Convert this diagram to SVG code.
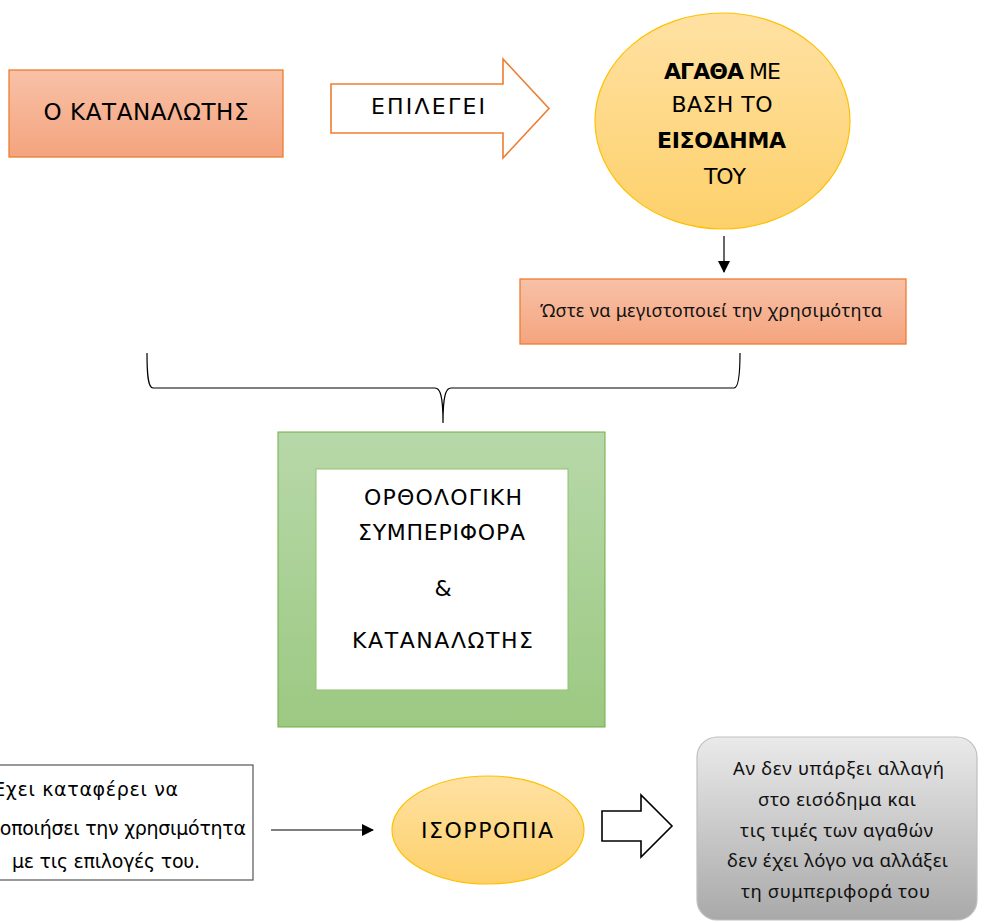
<svg xmlns="http://www.w3.org/2000/svg" width="986" height="923" viewBox="0 0 986 923">
<defs>
<linearGradient id="gOrange" x1="0" y1="0" x2="0" y2="1"><stop offset="0" stop-color="#F8C1A7"/><stop offset="1" stop-color="#F4A47E"/></linearGradient>
<linearGradient id="gYellow" x1="0" y1="0" x2="0" y2="1"><stop offset="0" stop-color="#FFE1A3"/><stop offset="1" stop-color="#FDD06A"/></linearGradient>
<linearGradient id="gGreen" x1="0" y1="0" x2="0" y2="1"><stop offset="0" stop-color="#B7D8A9"/><stop offset="1" stop-color="#9CC982"/></linearGradient>
<linearGradient id="gGray" x1="0" y1="0" x2="0" y2="1"><stop offset="0" stop-color="#EAEAEA"/><stop offset="1" stop-color="#A9A9A9"/></linearGradient>
<marker id="ah" markerUnits="userSpaceOnUse" markerWidth="12" markerHeight="12" viewBox="0 0 12 12" refX="11" refY="6" orient="auto"><path d="M0,0 L12,6 L0,12 z" fill="#000"/></marker>
<style>
.comic{font-family:"DejaVu Sans","Noto Sans",sans-serif;fill:#000}
.cal{font-family:"Noto Sans","Liberation Sans",sans-serif;fill:#111}
.c{text-anchor:middle}
</style>
</defs>
<rect width="986" height="923" fill="#fff"/>

<g id="consumer">
<rect x="9" y="70" width="274" height="87" fill="url(#gOrange)" stroke="#ED7D31" stroke-width="1.3"/>
<text class="comic c" x="146" y="120" font-size="23" textLength="205">Ο ΚΑΤΑΝΑΛΩΤΗΣ</text>
</g>

<g id="chooses">
<path d="M331,84 L503,84 L503,59 L549,108.5 L503,158 L503,133 L331,133 Z" fill="#fff" stroke="#ED7D31" stroke-width="1.6"/>
<text class="comic c" x="428" y="114" font-size="22" textLength="114">ΕΠΙΛΕΓΕΙ</text>
</g>

<g id="goods">
<ellipse cx="722.5" cy="121" rx="127.5" ry="108" fill="url(#gYellow)" stroke="#FFC000" stroke-width="1.2"/>
<text class="comic c" x="722.5" y="79" font-size="22" textLength="117"><tspan font-weight="bold">ΑΓΑΘΑ</tspan> ΜΕ</text>
<text class="comic c" x="722" y="112" font-size="22" textLength="101">ΒΑΣΗ ΤΟ</text>
<text class="comic c" x="721.5" y="148" font-size="22" font-weight="bold" textLength="129">ΕΙΣΟΔΗΜΑ</text>
<text class="comic c" x="725" y="184" font-size="22" textLength="42">ΤΟΥ</text>
</g>

<g id="maximize">
<rect x="520" y="279" width="386" height="65" fill="url(#gOrange)" stroke="#ED7D31" stroke-width="1.3"/>
<text class="cal c" x="711" y="317" font-size="18" textLength="342">Ώστε να μεγιστοποιεί την χρησιμότητα</text>
</g>

<g id="rational">
<rect x="278" y="432" width="327" height="295" fill="url(#gGreen)" stroke="#70AD47" stroke-width="1"/>
<rect x="316" y="469" width="252" height="221" fill="#fff" stroke="#8FC16E" stroke-width="1"/>
<text class="comic c" x="443" y="505" font-size="22" textLength="158">ΟΡΘΟΛΟΓΙΚΗ</text>
<text class="comic c" x="441.5" y="540" font-size="22" textLength="167">ΣΥΜΠΕΡΙΦΟΡΑ</text>
<text class="comic c" x="443" y="596" font-size="22">&amp;</text>
<text class="comic c" x="442.5" y="648" font-size="22" textLength="181">ΚΑΤΑΝΑΛΩΤΗΣ</text>
</g>

<g id="achieved">
<rect x="-40" y="765" width="293" height="115" fill="#fff" stroke="#555" stroke-width="1.2"/>
<text class="comic" x="-9" y="796" font-size="19" textLength="187">Έχει καταφέρει να</text>
<text class="comic" x="-62" y="835" font-size="19" textLength="308">μεγιστοποιήσει την χρησιμότητα</text>
<text class="comic" x="12" y="868" font-size="19" textLength="188">με τις επιλογές του.</text>
</g>

<g id="equilibrium">
<ellipse cx="488" cy="830" rx="96" ry="54" fill="url(#gYellow)" stroke="#FFC000" stroke-width="1.2"/>
<text class="comic c" x="487" y="838" font-size="22" textLength="132">ΙΣΟΡΡΟΠΙΑ</text>
</g>

<g id="hollowArrow">
<path d="M602,811 L641,811 L641,795 L672,826 L641,857 L641,841 L602,841 Z" fill="#fff" stroke="#000" stroke-width="1.6"/>
</g>

<g id="noChange">
<rect x="697" y="737" width="280" height="183" rx="20" ry="20" fill="url(#gGray)" stroke="#BFBFBF" stroke-width="1.2"/>
<text class="cal c" x="838.5" y="775" font-size="18.5" textLength="211">Αν δεν υπάρξει αλλαγή</text>
<text class="cal c" x="837" y="806" font-size="18.5" textLength="158">στο εισόδημα και</text>
<text class="cal c" x="836.5" y="837" font-size="18.5" textLength="193">τις τιμές των αγαθών</text>
<text class="cal c" x="837.5" y="867" font-size="18.5" textLength="221">δεν έχει λόγο να αλλάξει</text>
<text class="cal c" x="835.5" y="898" font-size="18.5" textLength="189">τη συμπεριφορά του</text>
</g>

<g id="connectors" fill="none" stroke="#000">
<line x1="724" y1="236" x2="724" y2="272" stroke-width="1.2" marker-end="url(#ah)"/>
<path d="M147,353 C147,375 148,388 153,388 L435,388 C440,388 443,395 443,423 C443,395 446,388 451,388 L734,388 C738,388 740,375 740,353" stroke-width="1.2"/>
<line x1="271" y1="830" x2="373" y2="830" stroke-width="1.2" marker-end="url(#ah)"/>
</g>
</svg>
